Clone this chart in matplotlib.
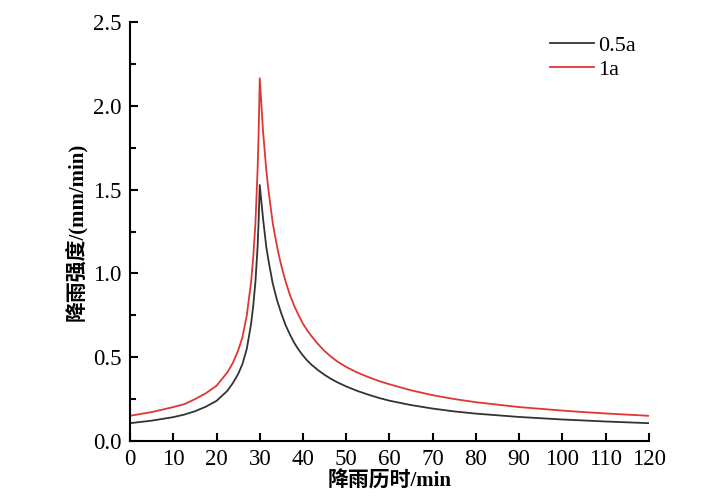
import matplotlib.pyplot as plt
from matplotlib.ticker import MultipleLocator

plt.rcParams['font.family'] = ['Liberation Serif', 'Noto Sans CJK SC']

# 降雨历时 (min)
t = [0, 5, 10, 12.5, 15, 17.5, 20, 22.5, 23.75, 25, 26, 27, 28, 28.5, 29, 29.5, 29.75,
     30, 30.75, 31.5, 32, 33, 34, 34.5, 35, 36, 37, 38, 39, 40, 41, 42, 43.5, 45, 46.5,
     48, 50, 52.5, 55, 57.5, 60, 65, 70, 75, 80, 90, 100, 105, 110, 120]

# 0.5a
i_05 = [0.107, 0.122, 0.143, 0.158, 0.178, 0.205, 0.24, 0.30, 0.345, 0.40, 0.46, 0.55,
        0.70, 0.81, 0.95, 1.16, 1.32,
        1.527, 1.33, 1.16, 1.08, 0.94, 0.84, 0.80, 0.76, 0.69, 0.635, 0.585, 0.545, 0.51,
        0.48, 0.455, 0.423, 0.395, 0.371, 0.35, 0.326, 0.30, 0.278, 0.258, 0.241, 0.215,
        0.194, 0.177, 0.164, 0.144, 0.129, 0.123, 0.117, 0.107]

# 1a
i_1 = [0.151, 0.173, 0.203, 0.22, 0.25, 0.285, 0.33, 0.41, 0.465, 0.54, 0.62, 0.75,
       0.95, 1.10, 1.30, 1.62, 1.85,
       2.164, 1.85, 1.62, 1.50, 1.30, 1.16, 1.10, 1.045, 0.95, 0.87, 0.805, 0.75, 0.70,
       0.66, 0.625, 0.578, 0.537, 0.503, 0.474, 0.442, 0.41, 0.383, 0.359, 0.339, 0.303,
       0.274, 0.251, 0.232, 0.203, 0.182, 0.173, 0.165, 0.151]

fig = plt.figure(figsize=(7.03, 4.99), dpi=100)
ax = fig.add_axes([0.185, 0.116, 0.738, 0.84])

ax.plot(t, i_05, color='#333333', lw=1.3, label='0.5a')
ax.plot(t, i_1, color='#e03535', lw=1.3, label='1a')

ax.set_xlim(0, 120)
ax.set_ylim(0, 2.5)
ax.xaxis.set_major_locator(MultipleLocator(10))
ax.yaxis.set_major_locator(MultipleLocator(0.5))
ax.yaxis.set_minor_locator(MultipleLocator(0.25))
ax.yaxis.set_major_formatter(plt.FormatStrFormatter('%.1f'))

for s in ['top', 'right']:
    ax.spines[s].set_visible(False)
for s in ['left', 'bottom']:
    ax.spines[s].set_linewidth(1.5)

ax.tick_params(which='major', direction='in', length=6, width=1.5, labelsize=16.5, pad=6)
ax.tick_params(which='minor', direction='in', length=4, width=1.5)

ax.set_xlabel('降雨历时/min', fontsize=15, fontweight='bold', labelpad=1)
ax.set_ylabel('降雨强度/(mm/min)', fontsize=15, fontweight='bold', labelpad=4)

ax.legend(loc='upper left', bbox_to_anchor=(0.77, 1.015), frameon=False, fontsize=16,
          handlelength=2.0, handletextpad=0.2, labelspacing=0.15)

fig.savefig('out.png', dpi=100)
